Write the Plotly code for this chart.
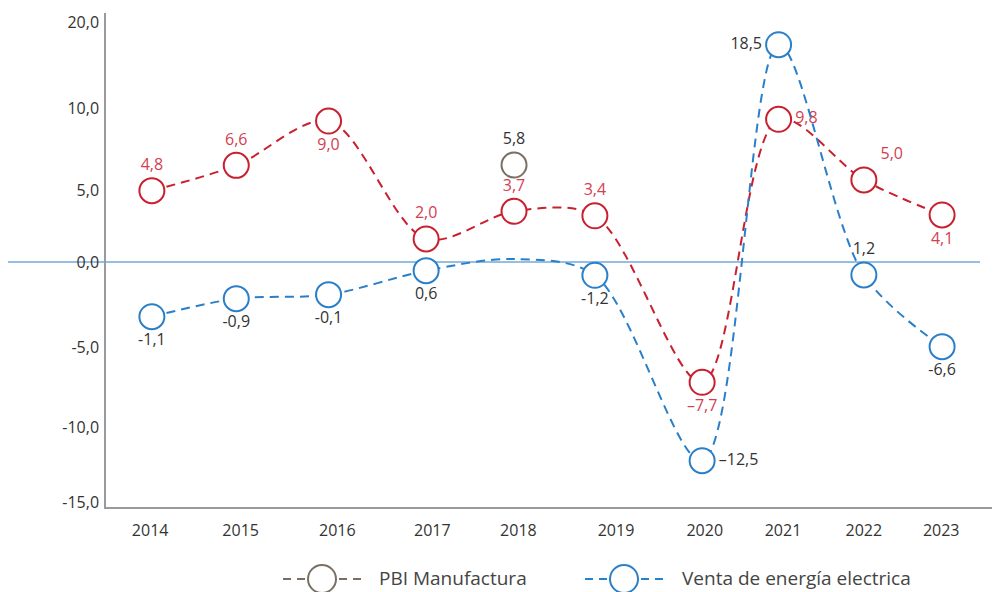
import plotly.graph_objects as go

# ---- data ----
years = ["2014", "2015", "2016", "2017", "2018", "2019", "2020", "2021", "2022", "2023"]
# horizontal positions of the points (in year units, the original axis is slightly uneven)
x_pos = [2014.01, 2014.97, 2016.02, 2017.13, 2018.13, 2019.05, 2020.27, 2021.14, 2022.11, 2023.0]
# positions of the year labels on the axis
tick_pos = [2013.99, 2015.02, 2016.12, 2017.20, 2018.18, 2019.29, 2020.30, 2021.19, 2022.11, 2022.99]

pbi_red = [4.46, 6.04, 8.81, 1.44, 3.17, 2.89, -7.52, 8.92, 5.13, 2.94]
pbi_red_labels = ["4,8", "6,6", "9,0", "2,0", "3,7", "3,4", "–7,7", "9,8", "5,0", "4,1"]
pbi_red_pos = ["top center", "top center", "bottom center", "top center", "top center",
               "top center", "bottom center", "middle right", "top right", "bottom center"]

venta = [-3.42, -2.29, -2.04, -0.54, 0.19, -0.83, -12.42, 13.58, -0.81, -5.29]
venta_labels = ["-1,1", "-0,9", "-0,1", "0,6", "", "-1,2", "–12,5", "18,5", "1,2", "-6,6"]
venta_pos = ["bottom center", "bottom center", "bottom center", "bottom center", "bottom center",
             "bottom center", "middle right", "middle left", "top center", "bottom center"]
venta_marker_visible = [1, 1, 1, 1, 0, 1, 1, 1, 1, 1]

gray_x = [2018.13]
gray_y = [6.06]
gray_labels = ["5,8"]

y_tick_pos = [15.0, 9.62, 4.5, 0, -5.31, -10.31, -15.0]
y_tick_text = ["20,0", "10,0", "5,0", "0,0", "-5,0", "-10,0", "-15,0"]

legend_names = ["PBI Manufactura", "Venta de energía electrica"]

RED = "#c8202f"
RED_TXT = "#d3404f"
BLUE = "#2a7fc9"
GRAY = "#7b6f63"
TXT = "#333333"
FONT = "Open Sans"

# the page body has an 8px margin; size the figure to fit the window inside it
OFF = 8
W, H = 1000 - OFF, 592 - OFF
ML, MR, MT, MB = 106 - OFF, 2, 13 - OFF, 85
PW, PH = W - ML - MR, H - MT - MB


def px_x(p):  # window pixel -> paper coordinate
    return (p - OFF - ML) / PW


def px_y(p):
    return (H - MB - (p - OFF)) / PH


fig = go.Figure()

fig.add_trace(go.Scatter(
    x=x_pos, y=pbi_red, mode="lines+markers+text",
    line=dict(color=RED, width=2, dash="9px,6px", shape="spline", smoothing=0.9),
    marker=dict(size=25, color="white", line=dict(color=RED, width=2)),
    text=pbi_red_labels, textposition=pbi_red_pos,
    textfont=dict(family=FONT, size=16, color=RED_TXT),
    showlegend=False, hoverinfo="skip", cliponaxis=False,
))

fig.add_trace(go.Scatter(
    x=x_pos, y=venta, mode="lines+markers+text",
    line=dict(color=BLUE, width=2, dash="9px,6px", shape="spline", smoothing=0.9),
    marker=dict(size=25, color="white", opacity=venta_marker_visible,
                line=dict(color=BLUE, width=2)),
    text=venta_labels, textposition=venta_pos,
    textfont=dict(family=FONT, size=16, color=TXT),
    showlegend=False, hoverinfo="skip", cliponaxis=False,
))

fig.add_trace(go.Scatter(
    x=gray_x, y=gray_y, mode="markers+text",
    marker=dict(size=25, color="white", line=dict(color=GRAY, width=2)),
    text=gray_labels, textposition="top center",
    textfont=dict(family=FONT, size=16, color=TXT),
    showlegend=False, hoverinfo="skip", cliponaxis=False,
))

fig.add_shape(type="line", xref="paper", yref="y", x0=px_x(8), x1=px_x(980), y0=0, y1=0,
              line=dict(color=BLUE, width=1), layer="below")

# custom legend (dashed line + big open circle + label)
legend_items = [(283, 363, 322, GRAY, 377), (585, 663, 624, BLUE, 680)]
ly = 579
for (lx0, lx1, cx, col, tx), name in zip(legend_items, legend_names):
    fig.add_shape(type="line", xref="paper", yref="paper",
                  x0=px_x(lx0), x1=px_x(lx1), y0=px_y(ly), y1=px_y(ly),
                  line=dict(color=col, width=2, dash="8px,6px"))
    fig.add_shape(type="circle", xref="paper", yref="paper",
                  x0=px_x(cx - 14), x1=px_x(cx + 14), y0=px_y(ly + 14), y1=px_y(ly - 14),
                  line=dict(color=col, width=2), fillcolor="white")
    fig.add_annotation(xref="paper", yref="paper", x=px_x(tx), y=px_y(ly - 1),
                       xanchor="left", yanchor="middle", showarrow=False, text=name,
                       font=dict(family=FONT, size=19, color="#444444"))

fig.update_layout(
    width=W, height=H,
    margin=dict(l=ML, r=MR, t=MT, b=MB),
    paper_bgcolor="white", plot_bgcolor="white",
    font=dict(family=FONT, size=16, color=TXT),
    showlegend=False,
    xaxis=dict(range=[2013.488, 2023.636], tickvals=tick_pos, ticktext=years,
               showgrid=False, zeroline=False, showline=True, linecolor="#9a9a9a",
               linewidth=1.5, ticks="", ticklabelstandoff=8, automargin=False,
               tickfont=dict(size=16, color=TXT)),
    yaxis=dict(range=[-15.3125, 15.5625], tickvals=y_tick_pos, ticktext=y_tick_text,
               showgrid=False, zeroline=False, showline=True, linecolor="#9a9a9a",
               linewidth=1.5, ticks="", ticklabelstandoff=2, automargin=False,
               tickfont=dict(size=16, color=TXT)),
)

fig.write_html("out.html")
